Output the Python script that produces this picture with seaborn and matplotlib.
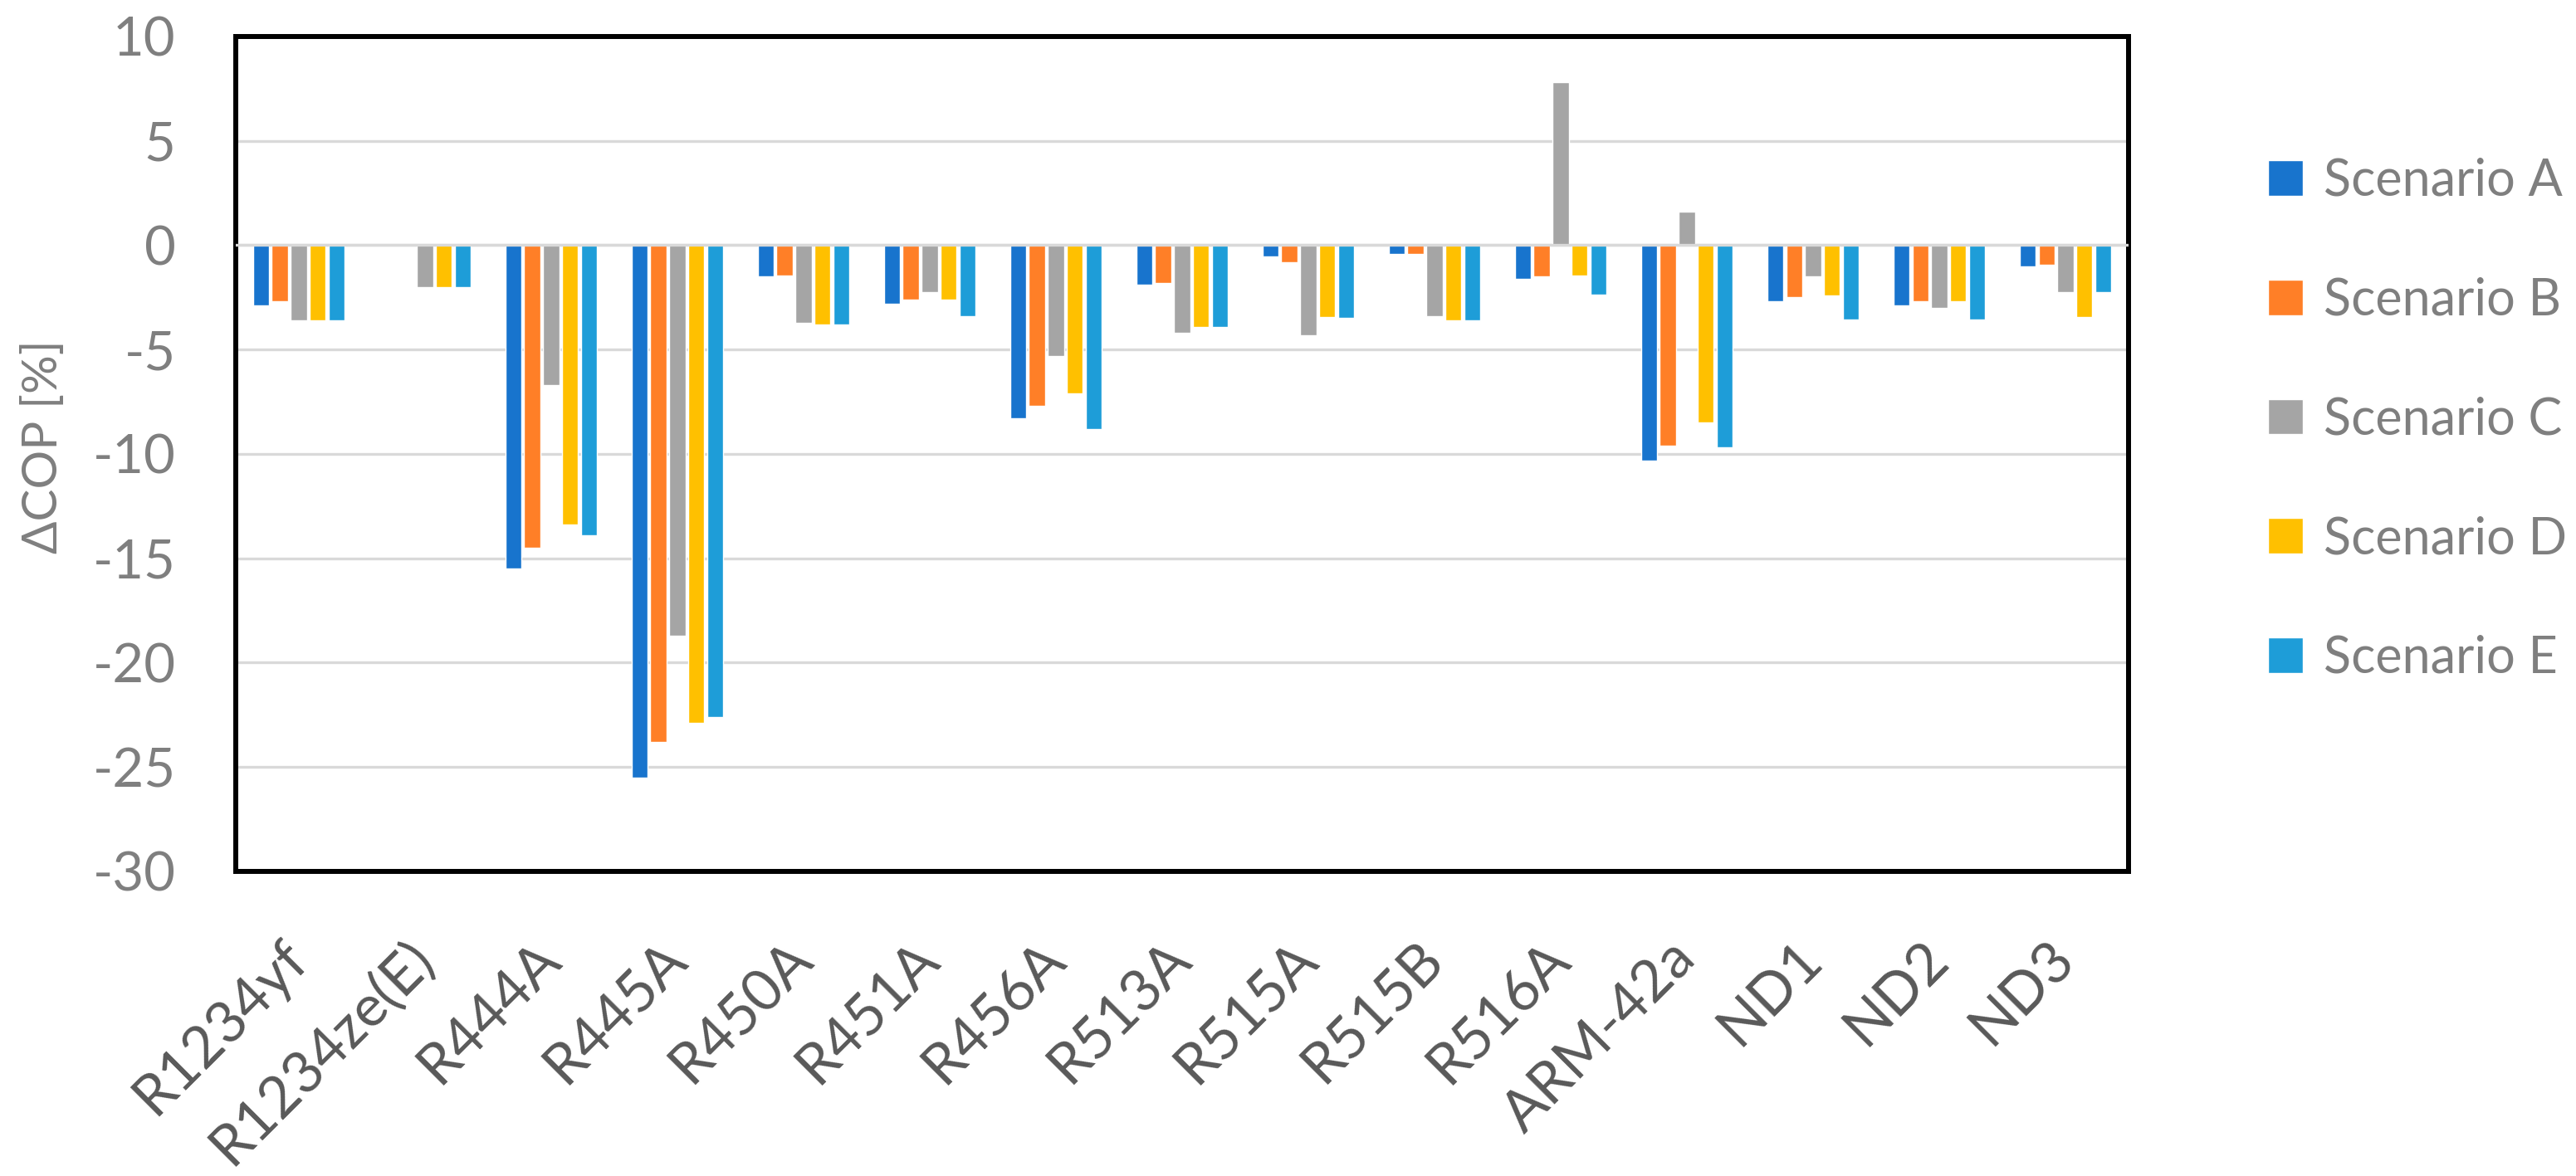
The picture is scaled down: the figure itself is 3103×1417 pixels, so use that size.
import numpy as np
import pandas as pd
import matplotlib
matplotlib.use("Agg")
import matplotlib.pyplot as plt
import seaborn as sns

# data (NaN = no bar)
refrigerants = ["R1234yf", "R1234ze(E)", "R444A", "R445A", "R450A", "R451A", "R456A",
                "R513A", "R515A", "R515B", "R516A", "ARM-42a", "ND1", "ND2", "ND3"]
scenarios = ["Scenario A", "Scenario B", "Scenario C", "Scenario D", "Scenario E"]

scen_a = [-2.9, np.nan, -15.5, -25.5, -1.5, -2.8, -8.3, -1.9, -0.55, -0.4, -1.6, -10.3, -2.7, -2.9, -1.0]
scen_b = [-2.7, np.nan, -14.5, -23.8, -1.45, -2.6, -7.7, -1.8, -0.8, -0.4, -1.5, -9.6, -2.5, -2.7, -0.95]
scen_c = [-3.6, -2.0, -6.7, -18.7, -3.7, -2.25, -5.3, -4.2, -4.3, -3.4, 7.8, 1.6, -1.5, -3.0, -2.25]
scen_d = [-3.6, -2.0, -13.4, -22.9, -3.8, -2.6, -7.1, -3.9, -3.45, -3.6, -1.45, -8.5, -2.4, -2.7, -3.45]
scen_e = [-3.6, -2.0, -13.9, -22.6, -3.8, -3.4, -8.8, -3.9, -3.5, -3.6, -2.35, -9.7, -3.55, -3.55, -2.25]

colors = ["#1874CD", "#FF7F27", "#A5A5A5", "#FFC000", "#1E9DD8"]

rows = []
for name, vals in zip(scenarios, [scen_a, scen_b, scen_c, scen_d, scen_e]):
    for ref, v in zip(refrigerants, vals):
        rows.append({"refrigerant": ref, "scenario": name, "dcop": v})
df = pd.DataFrame(rows)

sns.set_style("white")
plt.rcParams["font.family"] = ["Lato", "DejaVu Sans"]
plt.rcParams["axes.unicode_minus"] = False

fig = plt.figure(figsize=(31.03, 14.17), dpi=100)
ax = fig.add_axes([0.0915, 0.259, 0.7348, 0.710])

sns.barplot(data=df, x="refrigerant", y="dcop", hue="scenario", order=refrigerants,
            hue_order=scenarios, palette=colors, width=0.75, gap=0.15,
            errorbar=None, saturation=1, ax=ax, zorder=2)

ax.set_ylim(-30, 10)
ax.set_yticks(np.arange(-30, 11, 5))
ax.set_xlim(-0.5, len(refrigerants) - 0.5)
ax.yaxis.grid(True, color="#D9D9D9", linewidth=2.4, zorder=0)
ax.set_axisbelow(True)
ax.axhline(0, color="#D9D9D9", linewidth=2.4, zorder=3)

for s in ax.spines.values():
    s.set_visible(True)
    s.set_color("black")
    s.set_linewidth(4.3)

ax.tick_params(axis="y", length=0, pad=52, labelsize=47, labelcolor="#7F7F7F")
ax.tick_params(axis="x", length=0, pad=68, labelsize=50, labelcolor="#595959")
plt.setp(ax.get_xticklabels(), rotation=45, ha="right", va="center", rotation_mode="anchor")

ax.set_xlabel("")
ax.set_ylabel("")
fig.text(0.017, 0.62, "ΔCOP [%]", rotation=90, ha="center", va="center",
         fontsize=42, color="#7F7F7F")

handles, labels = ax.get_legend_handles_labels()
ax.get_legend().remove()
leg = fig.legend(handles, labels, loc="center left", bbox_to_anchor=(0.8705, 0.643),
                 frameon=False, fontsize=44, handlelength=0.7, handleheight=0.7,
                 handletextpad=0.4, labelspacing=1.42, borderpad=0)
for t in leg.get_texts():
    t.set_color("#7F7F7F")

fig.savefig("out.png", dpi=100)
